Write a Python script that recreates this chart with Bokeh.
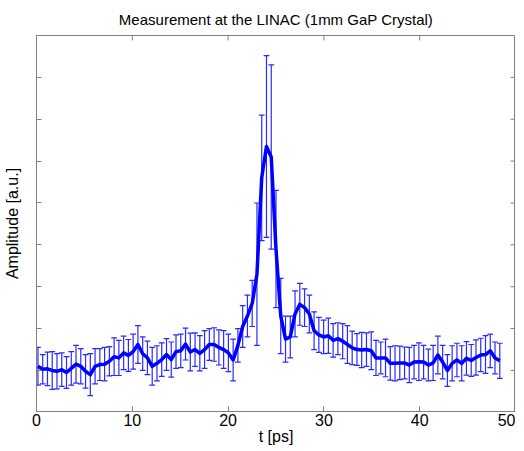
import math
from bokeh.plotting import figure
from bokeh.models import Range1d, FixedTicker, ColumnDataSource, CustomJSTickFormatter
from bokeh.embed import file_html
from bokeh.resources import INLINE

t_start = 0.15
t_step = 0.497

amplitude = [
    0.10, 0.03, 0.04, 0.00, -0.02, 0.02, -0.05, 0.05, 0.15, 0.10,
    -0.02, -0.10, 0.10, 0.14, 0.15, 0.22, 0.33, 0.30, 0.42, 0.36,
    0.45, 0.62, 0.40, 0.30, 0.10, 0.17, 0.26, 0.38, 0.26, 0.45,
    0.47, 0.63, 0.44, 0.50, 0.41, 0.50, 0.62, 0.62, 0.55, 0.50,
    0.42, 0.25, 0.60, 1.05, 1.30, 1.60, 2.30, 4.60, 5.35, 5.10,
    2.90, 1.30, 0.75, 0.80, 1.35, 1.58, 1.50, 1.35, 0.95, 0.85,
    0.80, 0.83, 0.72, 0.76, 0.70, 0.62, 0.54, 0.50, 0.49, 0.50,
    0.47, 0.30, 0.30, 0.30, 0.17, 0.17, 0.18, 0.18, 0.13, 0.20,
    0.21, 0.20, 0.13, 0.18, 0.37, 0.20, 0.00, 0.17, 0.25, 0.17,
    0.29, 0.24, 0.31, 0.37, 0.38, 0.47, 0.30, 0.23,
]

error = [
    0.45, 0.35, 0.40, 0.45, 0.42, 0.40, 0.38, 0.40, 0.45, 0.42,
    0.40, 0.50, 0.42, 0.38, 0.40, 0.35, 0.45, 0.42, 0.40, 0.38,
    0.42, 0.45, 0.40, 0.40, 0.45, 0.42, 0.40, 0.38, 0.42, 0.40,
    0.40, 0.38, 0.45, 0.40, 0.42, 0.45, 0.38, 0.40, 0.42, 0.45,
    0.45, 0.50, 0.40, 0.50, 0.50, 0.55, 1.70, 1.50, 2.17, 2.20,
    1.40, 0.90, 0.55, 0.50, 0.55, 0.50, 0.45, 0.45, 0.45, 0.42,
    0.40, 0.42, 0.40, 0.38, 0.42, 0.45, 0.40, 0.38, 0.42, 0.40,
    0.45, 0.42, 0.38, 0.45, 0.40, 0.42, 0.40, 0.38, 0.42, 0.40,
    0.45, 0.40, 0.38, 0.42, 0.45, 0.40, 0.38, 0.42, 0.40, 0.42,
    0.40, 0.38, 0.42, 0.40, 0.45, 0.40, 0.38, 0.42,
]

t_ps = [round(t_start + t_step * i, 3) for i in range(len(amplitude))]

x_lim = (0, 50)
y_lim = (-0.98, 8)
x_ticks = [0, 10, 20, 30, 40, 50]
y_ticks = [-1, 0, 1, 2, 3, 4, 5, 6, 7, 8]

title_text = "Measurement at the LINAC (1mm GaP Crystal)"
x_label = "t [ps]"
y_label = "Amplitude [a.u.]"

cap_half = 0.3
src = ColumnDataSource(dict(
    t=t_ps,
    a=amplitude,
    lo=[a - e for a, e in zip(amplitude, error)],
    hi=[a + e for a, e in zip(amplitude, error)],
    t0=[t - cap_half for t in t_ps],
    t1=[t + cap_half for t in t_ps],
))

FONT = "Liberation Sans"
GRAY = "#808080"

p = figure(frame_width=479, frame_height=376, x_range=Range1d(*x_lim), y_range=Range1d(*y_lim),
           output_backend="svg", toolbar_location=None,
           min_border_left=0, min_border_right=0, min_border_top=0, min_border_bottom=0)
p.title.text = title_text
p.title.align = "center"
p.title.text_font = FONT
p.title.text_font_style = "normal"
p.title.text_font_size = "15px"
p.title.text_color = "#000000"
p.title.standoff = 16

p.xgrid.visible = False
p.ygrid.visible = False
p.outline_line_color = GRAY
p.background_fill_color = "white"
p.border_fill_color = "white"

bottom_ax = p.below[0]
left_ax = p.left[0]

bottom_ax.ticker = FixedTicker(ticks=x_ticks)
bottom_ax.axis_label = x_label
left_ax.ticker = FixedTicker(ticks=y_ticks)
left_ax.axis_label = y_label
left_ax.formatter = CustomJSTickFormatter(code="return ''")

for ax in [bottom_ax, left_ax]:
    ax.major_tick_in = 5
    ax.major_tick_out = 0
    ax.minor_tick_line_color = None
    ax.axis_line_color = GRAY
    ax.major_tick_line_color = GRAY
    ax.major_label_text_font = FONT
    ax.major_label_text_color = "#000000"
    ax.major_label_text_font_size = "16px"
    ax.axis_label_text_font = FONT
    ax.axis_label_text_font_style = "normal"
    ax.axis_label_text_font_size = "16px"
    ax.axis_label_text_color = "#000000"
left_ax.major_label_standoff = 0
left_ax.axis_label_standoff = 16
bottom_ax.major_label_standoff = 2
bottom_ax.axis_label_standoff = -1

# tick marks on the top and right edges of the box (clipped to the frame)
p.scatter(x=[x_lim[1]] * len(y_ticks), y=y_ticks, marker="dash", size=10,
          line_color=GRAY, line_width=1)
p.scatter(x=x_ticks, y=[y_lim[1]] * len(x_ticks), marker="dash", size=10, angle=math.pi / 2,
          line_color=GRAY, line_width=1)

# error bars
p.segment(x0="t", y0="lo", x1="t", y1="hi", source=src, line_color="#2a2aff", line_width=1.2)
p.segment(x0="t0", y0="hi", x1="t1", y1="hi", source=src, line_color="#2a2aff", line_width=1.2)
p.segment(x0="t0", y0="lo", x1="t1", y1="lo", source=src, line_color="#2a2aff", line_width=1.2)
# main line
p.line(x="t", y="a", source=src, line_color="#0000ff", line_width=3.5, line_join="round")

open("out.html", "w").write(file_html(p, INLINE))
